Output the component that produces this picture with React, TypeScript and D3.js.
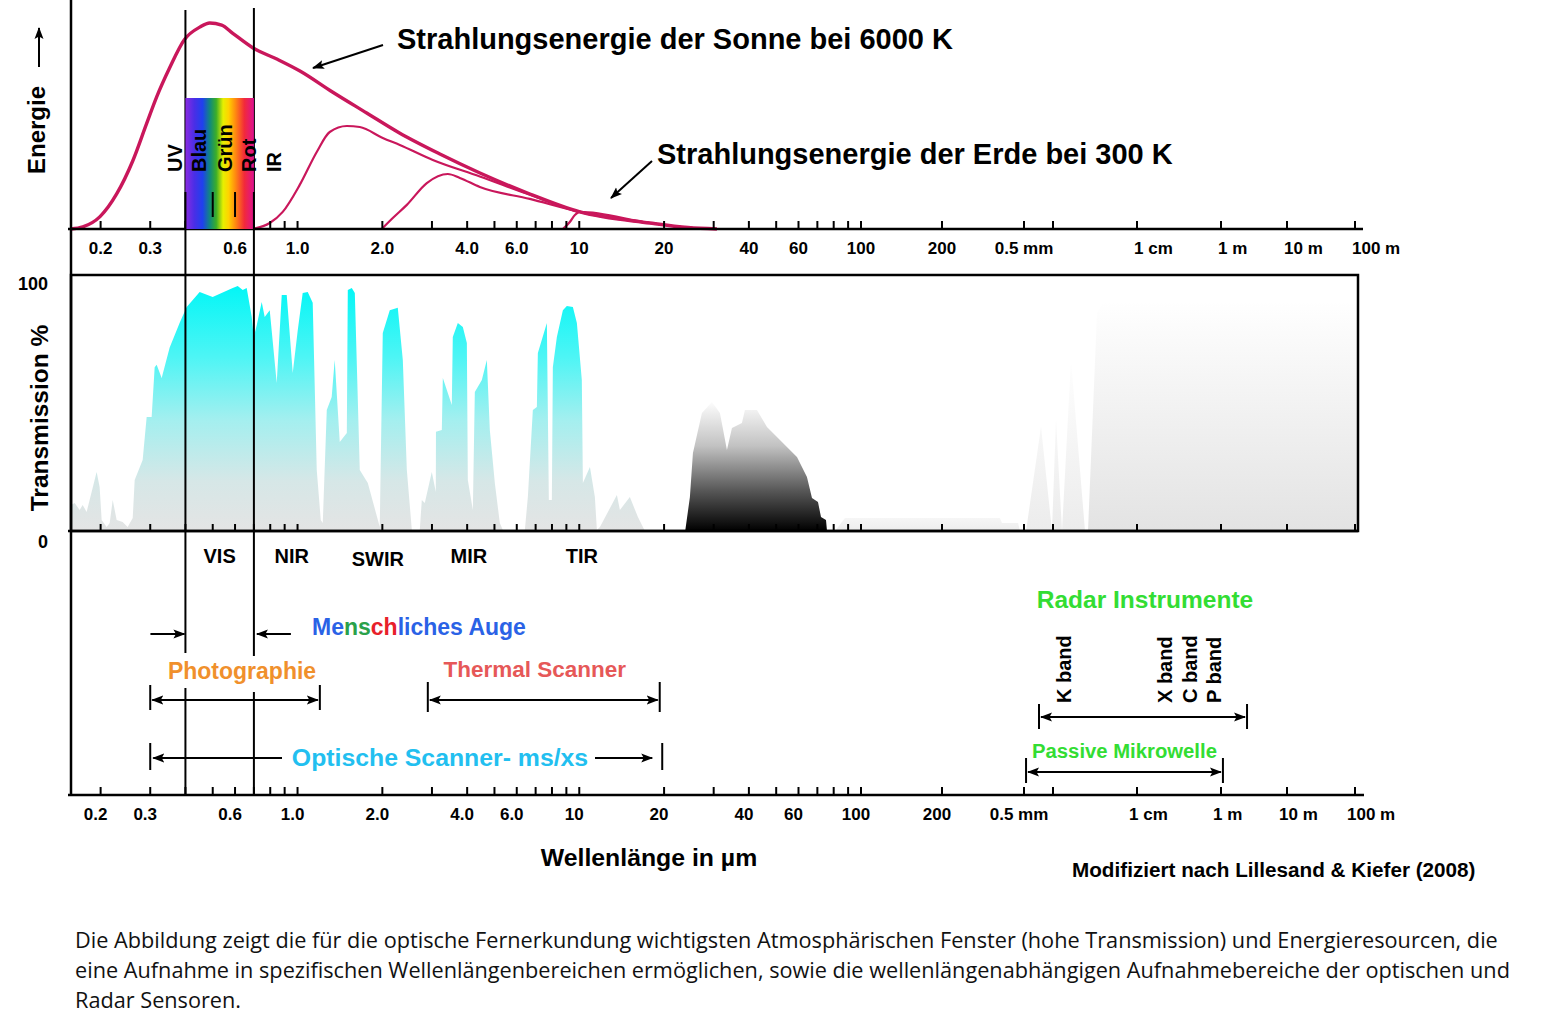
import React from "react";
import * as d3 from "d3";

// ---------- axis (wavelength in µm) ----------
const tickWavelengths = [0.2, 0.3, 0.4, 0.5, 0.6, 0.7, 0.8, 0.9, 1, 2, 3, 4, 5, 6, 7, 8, 9, 10, 20, 30, 40, 50, 60, 70, 80, 90, 100, 200, 500, 1000, 1e4, 1e6, 1e7, 1e8];
const axisLabelValues = [0.2, 0.3, 0.6, 1, 2, 4, 6, 10, 20, 40, 60, 100, 200, 500, 1e4, 1e6, 1e7, 1e8];
const axisLabelTexts = ["0.2", "0.3", "0.6", "1.0", "2.0", "4.0", "6.0", "10", "20", "40", "60", "100", "200", "0.5 mm", "1 cm", "1 m", "10 m", "100 m"];

// ---------- radiant energy curves [µm, relative energy] ----------
const sunEnergy: [number, number][] = [
  [0.157, 0], [0.173, 1], [0.199, 6], [0.228, 17], [0.26, 33], [0.291, 51], [0.316, 64], [0.351, 78],
  [0.397, 92], [0.45, 98], [0.488, 100], [0.538, 99], [0.589, 95], [0.693, 88], [0.844, 82.5], [1.02, 76.7],
  [1.33, 66.5], [1.76, 56.3], [2.3, 46.6], [3.2, 36.4], [4.44, 27.2], [6.68, 17], [10.05, 8.3], [17.8, 2.9], [24.3, 0.7], [30.8, 0],
];
const earthA: [number, number][] = [
  [0.688, 0], [0.797, 2.9], [0.886, 8.3], [1.018, 21.4], [1.17, 37.4], [1.301, 47.1], [1.496, 50], [1.663, 49.5],
  [2.007, 44.2], [2.307, 40.8], [3.021, 33.5], [4.436, 25.5], [6.676, 16.6], [10.05, 8.3], [17.8, 2.9], [24.3, 0.7], [30.8, 0],
];
const earthB: [number, number][] = [
  [1.991, 0], [2.178, 5.3], [2.443, 11.7], [2.876, 22.3], [3.415, 26.7], [3.767, 24.8], [4.436, 20.4], [6.676, 14.6],
  [10.05, 8.3], [17.8, 2.9], [24.3, 0.7], [30.8, 0],
];
const earthC: [number, number][] = [
  [8.746, 0], [9.26, 3.4], [9.65, 6.8], [10.05, 8.3], [17.8, 2.9], [24.3, 0.7], [30.8, 0],
];

// ---------- atmospheric transmission [µm, %] ----------
const transOptical: [number, number][] = [
  [0.157, 0], [0.157, 10.5], [0.1618, 11.3], [0.1685, 8.5], [0.1727, 10.5], [0.1784, 7.7], [0.1936, 23.8], [0.1984, 17.7],
  [0.2017, 4.4], [0.2101, 1.6], [0.2154, 3.2], [0.2208, 12.5], [0.228, 4.4], [0.2394, 3.6], [0.2495, 1.6], [0.26, 5.2],
  [0.2642, 20.6], [0.282, 28.6], [0.2914, 46], [0.3035, 46], [0.3111, 66], [0.3162, 67], [0.3294, 61.7], [0.3517, 74],
  [0.3817, 84], [0.4042, 90.3], [0.4494, 96.4], [0.4997, 94.4], [0.5888, 98], [0.6133, 98.8], [0.6389, 97.2], [0.66, 98],
  [0.6877, 86.3], [0.6991, 78.2], [0.7164, 83], [0.7462, 92.3], [0.7647, 86.3], [0.7967, 89], [0.8435, 59.7], [0.8789, 95.2],
  [0.9155, 95.2], [0.9616, 63.7], [1.002, 81], [1.043, 96], [1.087, 96.4], [1.132, 92], [1.17, 24.6], [1.209, 4.4],
  [1.229, 3.2], [1.27, 48.8], [1.322, 54], [1.355, 69], [1.412, 35.9], [1.496, 39.5], [1.508, 97.2], [1.558, 98],
  [1.597, 96], [1.663, 24.6], [1.776, 19.4], [1.958, 1.6], [2.007, 79.8], [2.125, 89], [2.269, 90], [2.364, 69],
  [2.443, 24.6], [2.545, 0.4], [2.716, 0.4], [2.761, 12.5], [2.829, 11.3], [2.996, 23.8], [3.096, 15.7], [3.1, 40],
  [3.252, 40.7], [3.279, 61.7], [3.528, 50.8], [3.557, 78.2], [3.706, 83.9], [3.861, 82.3], [3.99, 75.8], [4.022, 20.6],
  [4.19, 8.5], [4.259, 56], [4.51, 60.9], [4.698, 69], [4.814, 40.7], [5.015, 19.4], [5.224, 3.2], [5.354, 0.4],
  [6.41, 0.4], [6.569, 13.7], [6.843, 48.8], [7.071, 50], [7.129, 71.8], [7.673, 83.9], [7.799, 12.5], [7.993, 12.5],
  [8.058, 66], [8.327, 78.2], [8.746, 89], [9.036, 90.7], [9.491, 90.3], [9.806, 83.9], [10.21, 60.9], [10.3, 19.4],
  [10.91, 25.8], [11.36, 13.7], [11.55, 0.4], [11.84, 1.6], [13.6, 14.5], [13.94, 8.5], [15.12, 13.7], [16.15, 5.6], [17.1, 0],
];
const transMicrowave: [number, number][] = [
  [23.77, 0], [24.7, 13.7], [25.32, 31.5], [27.25, 47.6], [29.57, 52], [31.57, 47.6], [33.43, 32.7], [34.83, 41.5],
  [37.79, 43.5], [38.73, 48.8], [42.73, 48.8], [46.37, 41.9], [52.84, 35.5], [59.26, 29.8], [64.29, 21.8], [66.99, 13.3],
  [70.36, 11.7], [72.11, 5.6], [75.12, 4.4], [75.74, 0],
];
const transFaint: [number, number][] = [
  [80.9, 0], [87.7, 5.2], [382, 5.2], [391, 3.2], [468, 3.2], [478, 0],
];
const transRadioSpikes: [number, number][] = [
  [525, 0], [751, 42], [976, 0], [1086, 44.8], [1280, 0], [1638, 69], [2404, 0],
];
const transRadio: [number, number][] = [
  [2610, 0], [3341, 87.9], [3937, 91.9], [2e8, 91.9], [2e8, 0],
];

// ---------- labels ----------
const spectrumNames = ["UV", "Blau", "Grün", "Rot", "IR"];
const spectrumCenters = [0.3664, 0.4476, 0.5512, 0.6736, 0.8266];
const regionNames = ["VIS", "NIR", "SWIR", "MIR", "TIR"];
const regionCenters = [0.529, 0.954, 1.927, 4.055, 10.21];
const radarBandNames = ["K band", "X band", "C band", "P band"];
const radarBandCenters = [1330, 45200, 178000, 662000];

const eyeRange = [0.4, 0.7];
const photoRange = [0.3, 1.2];
const thermalRange = [2.9, 19.3];
const opticalRange = [0.3, 19.7];
const radarRange = [716, 2.48e6];
const passiveRange = [525, 1.07e6];

const captionLines = [
  "Die Abbildung zeigt die für die optische Fernerkundung wichtigsten Atmosphärischen Fenster (hohe Transmission) und Energieresourcen, die",
  "eine Aufnahme in spezifischen Wellenlängenbereichen ermöglichen, sowie die wellenlängenabhängigen Aufnahmebereiche der optischen und",
  "Radar Sensoren.",
];

const F = "'Liberation Sans', Arial, Helvetica, sans-serif";
const CURVE = "#c9175b";

export default function App() {
  // piecewise (broken) logarithmic wavelength axis
  const knotWl = [0.157, 100, 200, 500, 1000, 1e4, 1e6, 1e7, 1e8];
  const knotPx = [71, 861, 942, 1024, 1053, 1137, 1221, 1287, 1355];
  const xs = d3.scaleLinear().domain(knotWl.map(Math.log10)).range(knotPx);
  const x = (w: number) => xs(Math.log10(w));
  const yE = d3.scaleLinear().domain([0, 100]).range([229, 23]);
  const yT = d3.scaleLinear().domain([0, 100]).range([531, 283]);

  const eLine = d3.line<[number, number]>().x((d) => x(d[0])).y((d) => yE(d[1])).curve(d3.curveMonotoneX);
  const tArea = d3.area<[number, number]>().x((d) => x(d[0])).y0(yT(0)).y1((d) => yT(d[1]));

  const boxL = 71, boxR = 1358, boxT = 275, boxB = 531;
  const topAxisY = 229, botAxisY = 795;
  const lblAnchor = (t: string) => (/^\d+ (cm|m)$/.test(t) ? "start" : "middle");
  const lblDx = (t: string) => (/^\d+ (cm|m)$/.test(t) ? -3 : 0);

  const axisTicks = (y: number, len: number) =>
    tickWavelengths.map((w, i) => (
      <line key={i} x1={x(w)} x2={x(w)} y1={y} y2={y - len} stroke="#000" strokeWidth={2} />
    ));
  const axisLabels = (y: number, shift: number) =>
    axisLabelValues.map((w, i) => (
      <text key={i} x={x(w) + lblDx(axisLabelTexts[i]) + shift} y={y} textAnchor={lblAnchor(axisLabelTexts[i])}
        fontFamily={F} fontWeight="bold" fontSize={17}>{axisLabelTexts[i]}</text>
    ));

  const rangeBar = (w: number, y1: number, y2: number, key: string) => (
    <line key={key} x1={x(w)} x2={x(w)} y1={y1} y2={y2} stroke="#000" strokeWidth={2} />
  );

  return (
    <div style={{ position: "absolute", left: 0, top: 0, background: "#fff" }}>
      <svg width={1559} height={1031} viewBox="0 0 1559 1031" style={{ display: "block" }}>
        <defs>
          <linearGradient id="gCyan" gradientUnits="userSpaceOnUse" x1={0} y1={yT(100)} x2={0} y2={yT(0)}>
            <stop offset="0" stopColor="#00f6f6" />
            <stop offset="0.3" stopColor="#4ef5f5" />
            <stop offset="0.55" stopColor="#a3efef" />
            <stop offset="0.8" stopColor="#d6e7e7" />
            <stop offset="1" stopColor="#e4e4e4" />
          </linearGradient>
          <linearGradient id="gBlack" gradientUnits="userSpaceOnUse" x1={0} y1={400} x2={0} y2={531}>
            <stop offset="0" stopColor="#ffffff" />
            <stop offset="0.35" stopColor="#c2c2c2" />
            <stop offset="0.7" stopColor="#555555" />
            <stop offset="1" stopColor="#000000" />
          </linearGradient>
          <linearGradient id="gRadio" gradientUnits="userSpaceOnUse" x1={0} y1={300} x2={0} y2={531}>
            <stop offset="0" stopColor="#ffffff" />
            <stop offset="1" stopColor="#e3e3e3" />
          </linearGradient>
          <linearGradient id="gSpikes" gradientUnits="userSpaceOnUse" x1={0} y1={350} x2={0} y2={531}>
            <stop offset="0" stopColor="#ffffff" />
            <stop offset="1" stopColor="#ececec" />
          </linearGradient>
          <linearGradient id="gFaint" gradientUnits="userSpaceOnUse" x1={0} y1={510} x2={0} y2={531}>
            <stop offset="0" stopColor="#fbfbfb" />
            <stop offset="1" stopColor="#ededed" />
          </linearGradient>
          <linearGradient id="gSpec" x1="0" x2="1" y1="0" y2="0">
            <stop offset="0" stopColor="#8a2be2" />
            <stop offset="0.13" stopColor="#4a2ee6" />
            <stop offset="0.25" stopColor="#1f40ee" />
            <stop offset="0.36" stopColor="#118a7a" />
            <stop offset="0.45" stopColor="#3cae28" />
            <stop offset="0.55" stopColor="#e6f000" />
            <stop offset="0.63" stopColor="#ffd200" />
            <stop offset="0.73" stopColor="#ff8a10" />
            <stop offset="0.86" stopColor="#f22a3a" />
            <stop offset="1" stopColor="#dd1190" />
          </linearGradient>
          <clipPath id="boxClip">
            <rect x={boxL} y={boxT} width={boxR - boxL} height={boxB - boxT} />
          </clipPath>
          <marker id="arr" viewBox="0 0 12 10" refX="11" refY="5" markerWidth="12" markerHeight="10"
            markerUnits="userSpaceOnUse" orient="auto-start-reverse">
            <path d="M0,0.5 L12,5 L0,9.5 L2.5,5 Z" fill="#000" />
          </marker>
        </defs>
        <rect x={0} y={0} width={1559} height={1031} fill="#fff" />

        {/* transmission areas */}
        <g clipPath="url(#boxClip)">
          <path d={tArea(transOptical) || ""} fill="url(#gCyan)" />
          <path d={tArea(transMicrowave) || ""} fill="url(#gBlack)" />
          <path d={tArea(transFaint) || ""} fill="url(#gFaint)" />
          <path d={tArea(transRadioSpikes) || ""} fill="url(#gSpikes)" />
          <path d={tArea(transRadio) || ""} fill="url(#gRadio)" />
        </g>

        {/* energy curves */}
        <path d={eLine(earthC) || ""} fill="none" stroke={CURVE} strokeWidth={2.2} />
        <path d={eLine(earthB) || ""} fill="none" stroke={CURVE} strokeWidth={2.2} />
        <path d={eLine(earthA) || ""} fill="none" stroke={CURVE} strokeWidth={2.2} />
        <path d={eLine(sunEnergy) || ""} fill="none" stroke={CURVE} strokeWidth={3.4} />

        {/* left border */}
        <line x1={71} x2={71} y1={0} y2={botAxisY} stroke="#000" strokeWidth={2.5} />

        {/* top axis */}
        <line x1={68} x2={1363} y1={topAxisY} y2={topAxisY} stroke="#000" strokeWidth={2.5} />
        {axisTicks(topAxisY, 8)}
        {axisLabels(254, 0)}

        {/* transmission box */}
        <rect x={boxL} y={boxT} width={boxR - boxL} height={boxB - boxT} fill="none" stroke="#000" strokeWidth={2.5} />
        <line x1={68} x2={boxR} y1={boxB} y2={boxB} stroke="#000" strokeWidth={2.5} />
        {axisTicks(boxB, 7)}

        {/* bottom axis */}
        <line x1={68} x2={1364} y1={botAxisY} y2={botAxisY} stroke="#000" strokeWidth={2.5} />
        {axisTicks(botAxisY, 8)}
        {axisLabels(820, -5)}

        {/* visible range lines */}
        <line x1={x(eyeRange[0])} x2={x(eyeRange[0])} y1={10} y2={653} stroke="#000" strokeWidth={2} />
        <line x1={x(eyeRange[0])} x2={x(eyeRange[0])} y1={688} y2={botAxisY} stroke="#000" strokeWidth={2} />
        <line x1={x(eyeRange[1])} x2={x(eyeRange[1])} y1={8} y2={656} stroke="#000" strokeWidth={2} />
        <line x1={x(eyeRange[1])} x2={x(eyeRange[1])} y1={692} y2={botAxisY} stroke="#000" strokeWidth={2} />

        {/* spectrum */}
        <rect x={x(0.4)} y={98} width={x(0.7) - x(0.4)} height={topAxisY - 98} fill="url(#gSpec)" />
        {[0.4, 0.5, 0.6, 0.7].map((w, i) => (
          <line key={i} x1={x(w)} x2={x(w)} y1={192} y2={w === 0.4 || w === 0.7 ? topAxisY : 217} stroke="#000" strokeWidth={2} />
        ))}
        {spectrumNames.map((n, i) => (
          <text key={n} transform={`translate(${x(spectrumCenters[i])},172) rotate(-90)`} dy="0.36em"
            fontFamily={F} fontWeight="bold" fontSize={20}>{n}</text>
        ))}

        {/* energy axis title */}
        <text transform="translate(45,130) rotate(-90)" textAnchor="middle" fontFamily={F} fontWeight="bold" fontSize={24}>Energie</text>
        <line x1={39} x2={39} y1={67} y2={28} stroke="#000" strokeWidth={2} markerEnd="url(#arr)" />

        {/* curve titles */}
        <text x={397} y={49} fontFamily={F} fontWeight="bold" fontSize={29}>Strahlungsenergie der Sonne bei 6000 K</text>
        <line x1={383} y1={45} x2={313} y2={68} stroke="#000" strokeWidth={2} markerEnd="url(#arr)" />
        <text x={657} y={164} fontFamily={F} fontWeight="bold" fontSize={29}>Strahlungsenergie der Erde bei 300 K</text>
        <line x1={652} y1={161} x2={611} y2={198} stroke="#000" strokeWidth={2} markerEnd="url(#arr)" />

        {/* transmission axis labels */}
        <text x={48} y={290} textAnchor="end" fontFamily={F} fontWeight="bold" fontSize={18}>100</text>
        <text x={48} y={548} textAnchor="end" fontFamily={F} fontWeight="bold" fontSize={18}>0</text>
        <text transform="translate(48,418) rotate(-90)" textAnchor="middle" fontFamily={F} fontWeight="bold" fontSize={24.5}>Transmission %</text>

        {/* region labels */}
        {regionNames.map((n, i) => (
          <text key={n} x={x(regionCenters[i])} y={n === "SWIR" ? 566 : 563} textAnchor="middle" fontFamily={F} fontWeight="bold" fontSize={20}>{n}</text>
        ))}

        {/* human eye */}
        <line x1={x(eyeRange[0]) - 35} x2={x(eyeRange[0]) - 1} y1={634} y2={634} stroke="#000" strokeWidth={2} markerEnd="url(#arr)" />
        <line x1={x(eyeRange[1]) + 37} x2={x(eyeRange[1]) + 3} y1={634} y2={634} stroke="#000" strokeWidth={2} markerEnd="url(#arr)" />
        <text x={312} y={635} fontFamily={F} fontWeight="bold" fontSize={23} fill="#2a62e6">
          Me<tspan fill="#2aa14a">ns</tspan><tspan fill="#e8202a">ch</tspan>liches Auge
        </text>

        {/* photographie */}
        <text x={(x(photoRange[0]) + x(photoRange[1])) / 2 + 7} y={679} textAnchor="middle" fontFamily={F} fontWeight="bold" fontSize={23} fill="#f0902c">Photographie</text>
        {rangeBar(photoRange[0], 685, 710, "pb0")}
        {rangeBar(photoRange[1], 685, 710, "pb1")}
        <line x1={x(photoRange[0]) + 2} x2={x(photoRange[1]) - 2} y1={700} y2={700} stroke="#000" strokeWidth={2} markerStart="url(#arr)" markerEnd="url(#arr)" />

        {/* thermal scanner */}
        <text x={(x(thermalRange[0]) + x(thermalRange[1])) / 2 - 9} y={677} textAnchor="middle" fontFamily={F} fontWeight="bold" fontSize={22.5} fill="#e65858">Thermal Scanner</text>
        {rangeBar(thermalRange[0], 682, 712, "tb0")}
        {rangeBar(thermalRange[1], 682, 712, "tb1")}
        <line x1={x(thermalRange[0]) + 2} x2={x(thermalRange[1]) - 2} y1={700} y2={700} stroke="#000" strokeWidth={2} markerStart="url(#arr)" markerEnd="url(#arr)" />

        {/* optical scanner */}
        <text x={440} y={766} textAnchor="middle" fontFamily={F} fontWeight="bold" fontSize={24.8} fill="#22bff0">Optische Scanner- ms/xs</text>
        {rangeBar(opticalRange[0], 743, 770, "ob0")}
        {rangeBar(opticalRange[1], 743, 770, "ob1")}
        <line x1={282} x2={x(opticalRange[0]) + 3} y1={758} y2={758} stroke="#000" strokeWidth={2} markerEnd="url(#arr)" />
        <line x1={595} x2={x(opticalRange[1]) - 10} y1={758} y2={758} stroke="#000" strokeWidth={2} markerEnd="url(#arr)" />

        {/* radar */}
        <text x={(x(radarRange[0]) + x(radarRange[1])) / 2 + 2} y={608} textAnchor="middle" fontFamily={F} fontWeight="bold" fontSize={24.5} fill="#33dd33">Radar Instrumente</text>
        {radarBandNames.map((n, i) => (
          <text key={n} transform={`translate(${x(radarBandCenters[i])},703) rotate(-90)`} dy="0.36em"
            fontFamily={F} fontWeight="bold" fontSize={20}>{n}</text>
        ))}
        {rangeBar(radarRange[0], 704, 729, "rb0")}
        {rangeBar(radarRange[1], 704, 729, "rb1")}
        <line x1={x(radarRange[0]) + 2} x2={x(radarRange[1]) - 2} y1={717} y2={717} stroke="#000" strokeWidth={2} markerStart="url(#arr)" markerEnd="url(#arr)" />

        {/* passive microwave */}
        <text x={(x(passiveRange[0]) + x(passiveRange[1])) / 2} y={758} textAnchor="middle" fontFamily={F} fontWeight="bold" fontSize={20.3} fill="#33dd33">Passive Mikrowelle</text>
        {rangeBar(passiveRange[0], 758, 783, "mb0")}
        {rangeBar(passiveRange[1], 758, 783, "mb1")}
        <line x1={x(passiveRange[0]) + 2} x2={x(passiveRange[1]) - 2} y1={772} y2={772} stroke="#000" strokeWidth={2} markerStart="url(#arr)" markerEnd="url(#arr)" />

        {/* x axis title and source */}
        <text x={649} y={866} textAnchor="middle" fontFamily={F} fontWeight="bold" fontSize={24.8}>Wellenlänge in µm</text>
        <text x={1072} y={877} fontFamily={F} fontWeight="bold" fontSize={20.7}>Modifiziert nach Lillesand &amp; Kiefer (2008)</text>

        {/* caption */}
        {captionLines.map((l, i) => (
          <text key={i} x={75} y={948 + i * 30} fontFamily="'Open Sans', sans-serif" fontSize={21.7} fill="#111">{l}</text>
        ))}
      </svg>
    </div>
  );
}
